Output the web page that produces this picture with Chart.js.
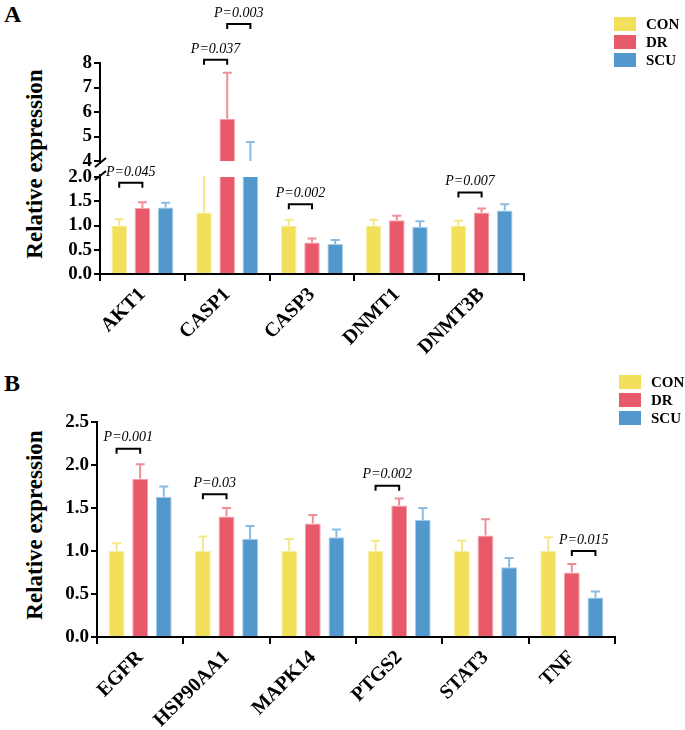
<!DOCTYPE html>
<html>
<head>
<meta charset="utf-8">
<script src="https://cdn.jsdelivr.net/npm/chart.js@4.4.1/dist/chart.umd.min.js"></script>
<style>
body{margin:0;background:#fff;width:685px;height:730px;position:relative;overflow:hidden;font-family:"Liberation Serif","Times New Roman",serif;color:#000;}
canvas{position:absolute;left:0;}
.panel{position:absolute;font-weight:bold;font-size:24px;line-height:28px;}
.ytitle{position:absolute;font-weight:bold;font-size:23px;white-space:nowrap;transform:translate(-50%,-50%) rotate(-90deg);}
.legend{position:absolute;font-weight:bold;font-size:15px;}
.legend div{height:18px;display:flex;align-items:center;}
.legend span{display:inline-block;width:22px;height:14px;margin-right:10px;}
</style>
</head>
<body>
<div class="panel" style="left:4px;top:0px">A</div>
<div class="panel" style="left:4px;top:369px">B</div>
<div class="ytitle" style="left:35px;top:164px">Relative expression</div>
<div class="ytitle" style="left:35px;top:525px">Relative expression</div>
<canvas id="aTop" width="685" height="370" style="top:0"></canvas>
<canvas id="aBot" width="685" height="370" style="top:0"></canvas>
<canvas id="bChart" width="685" height="360" style="top:370px"></canvas>
<div class="legend" id="legA" style="left:614px;top:15px"></div>
<div class="legend" id="legB" style="left:619px;top:373px"></div>
<script>
const fontFam = '"Liberation Serif", "Times New Roman", serif';

// grupos y colores
const groups = ['CON', 'DR', 'SCU'];
const barColors = ['#F2E05A', '#E8596A', '#5398CC'];
const edgeColors = ['#F8EEA6', '#F4A3AB', '#A5CAE8'];
const errColors = ['#F5E887', '#F08E98', '#8ABBE2'];

// Panel A
const genesA = ['AKT1', 'CASP1', 'CASP3', 'DNMT1', 'DNMT3B'];
const conA = [1.00, 1.27, 1.00, 1.00, 1.00];
const conA_sd = [0.13, 1.60, 0.12, 0.12, 0.10];
const drA = [1.36, 5.72, 0.65, 1.11, 1.27];
const drA_sd = [0.12, 1.88, 0.08, 0.09, 0.08];
const scuA = [1.37, 3.60, 0.62, 0.97, 1.31];
const scuA_sd = [0.10, 1.18, 0.08, 0.12, 0.13];
const ticksA_low = [0, 0.5, 1.0, 1.5, 2.0];
const ticksA_high = [4, 5, 6, 7, 8];
// [categoria, grupo1, grupo2, nivel, texto]
const bracketsA_low = [
    [0, 0, 1, 1.88, 'P=0.045'],
    [2, 0, 1, 1.44, 'P=0.002'],
    [4, 0, 1, 1.68, 'P=0.007']
];
const bracketsA_high = [
    [1, 0, 1, 8.13, 'P=0.037'],
    [1, 1, 2, 9.59, 'P=0.003']
];

// Panel B
const genesB = ['EGFR', 'HSP90AA1', 'MAPK14', 'PTGS2', 'STAT3', 'TNF'];
const conB = [1.00, 1.00, 1.00, 1.00, 1.00, 1.00];
const conB_sd = [0.09, 0.17, 0.14, 0.12, 0.12, 0.16];
const drB = [1.84, 1.40, 1.32, 1.53, 1.18, 0.75];
const drB_sd = [0.17, 0.10, 0.10, 0.08, 0.19, 0.10];
const scuB = [1.63, 1.14, 1.16, 1.36, 0.81, 0.46];
const scuB_sd = [0.12, 0.15, 0.09, 0.14, 0.11, 0.07];
const ticksB = [0, 0.5, 1.0, 1.5, 2.0, 2.5];
const bracketsB = [
    [0, 0, 1, 2.19, 'P=0.001'],
    [1, 0, 1, 1.66, 'P=0.03'],
    [3, 0, 1, 1.76, 'P=0.002'],
    [5, 1, 2, 1.00, 'P=0.015']
];

// leyendas
['legA', 'legB'].forEach(id => {
    document.getElementById(id).innerHTML = groups.map((g, i) =>
        `<div><span style="background:${barColors[i]}"></span>${g}</div>`).join('');
});

// barras de error, corchetes y marcas de corte
const statMarks = {
    id: 'statMarks',
    afterDatasetsDraw(chart) {
        const ctx = chart.ctx, a = chart.chartArea, y = chart.scales.y;
        ctx.save();
        ctx.beginPath();
        ctx.rect(a.left, a.top - 1, a.right - a.left, a.bottom - a.top + 1);
        ctx.clip();
        chart.data.datasets.forEach((ds, i) => {
            chart.getDatasetMeta(i).data.forEach((bar, j) => {
                const y0 = y.getPixelForValue(ds.data[j]);
                const y1 = y.getPixelForValue(ds.data[j] + ds.sd[j]);
                ctx.strokeStyle = ds.errColor;
                ctx.lineWidth = 2;
                ctx.beginPath();
                ctx.moveTo(bar.x, y0);
                ctx.lineTo(bar.x, y1);
                ctx.moveTo(bar.x - 4.5, y1);
                ctx.lineTo(bar.x + 4.5, y1);
                ctx.stroke();
            });
        });
        ctx.restore();
    },
    afterDraw(chart, args, opts) {
        const ctx = chart.ctx, a = chart.chartArea, y = chart.scales.y;
        ctx.save();
        ctx.strokeStyle = '#000';
        ctx.fillStyle = '#000';
        ctx.lineWidth = 2;
        (opts.brackets || []).forEach(b => {
            const p1 = chart.getDatasetMeta(b[1]).data[b[0]];
            const p2 = chart.getDatasetMeta(b[2]).data[b[0]];
            const yy = y.getPixelForValue(b[3]);
            ctx.beginPath();
            ctx.moveTo(p1.x, yy + 5);
            ctx.lineTo(p1.x, yy);
            ctx.lineTo(p2.x, yy);
            ctx.lineTo(p2.x, yy + 5);
            ctx.stroke();
            ctx.font = 'italic 14px ' + fontFam;
            ctx.textAlign = 'center';
            ctx.textBaseline = 'bottom';
            ctx.fillText(b[4], (p1.x + p2.x) / 2, yy - 4);
        });
        if (opts.cut === 'bottom') {
            ctx.beginPath();
            ctx.moveTo(a.left, a.bottom);
            ctx.lineTo(a.left, a.bottom + 3);
            ctx.moveTo(a.left - 5, a.bottom + 6);
            ctx.lineTo(a.left + 6, a.bottom - 3);
            ctx.stroke();
        }
        if (opts.cut === 'top') {
            ctx.beginPath();
            ctx.moveTo(a.left, a.top);
            ctx.lineTo(a.left, a.top - 3);
            ctx.moveTo(a.left - 5, a.top + 3);
            ctx.lineTo(a.left + 6, a.top - 6);
            ctx.stroke();
        }
        ctx.restore();
    }
};

function hacerGrafico(id, labels, valores, sds, yTicks, pad, yWidth, showX, brackets, cut) {
    const yMin = yTicks[0], yMax = yTicks[yTicks.length - 1];
    new Chart(document.getElementById(id), {
        type: 'bar',
        data: {
            labels: labels,
            datasets: groups.map((g, i) => ({
                label: g,
                data: valores[i],
                sd: sds[i],
                errColor: errColors[i],
                backgroundColor: barColors[i],
                borderColor: edgeColors[i],
                borderWidth: 1,
                categoryPercentage: 0.82,
                barPercentage: 0.67,
                clip: 0
            }))
        },
        options: {
            responsive: false,
            animation: false,
            events: [],
            layout: { padding: pad },
            plugins: {
                legend: { display: false },
                tooltip: { enabled: false },
                statMarks: { brackets: brackets, cut: cut }
            },
            scales: {
                x: {
                    display: showX,
                    grid: { drawOnChartArea: false, drawTicks: true, tickLength: 7, color: '#000', lineWidth: 2 },
                    border: { display: true, color: '#000', width: 2 },
                    ticks: {
                        color: '#000', autoSkip: false, minRotation: 45, maxRotation: 45, padding: 2,
                        font: { family: fontFam, size: 20, weight: 'bold' }
                    },
                    afterFit: s => { if (showX) s.height = 90; }
                },
                y: {
                    min: yMin,
                    max: yMax,
                    grid: { drawOnChartArea: false, drawTicks: true, tickLength: 6, color: '#000', lineWidth: 2 },
                    border: { display: true, color: '#000', width: 2 },
                    afterBuildTicks: s => { s.ticks = yTicks.map(v => ({ value: v })); },
                    ticks: {
                        color: '#000', padding: 2, autoSkip: false,
                        font: { family: fontFam, size: 19, weight: 'bold' },
                        callback: v => (yMax > 3 ? String(v) : v.toFixed(1))
                    },
                    afterFit: s => { s.width = yWidth; }
                }
            }
        },
        plugins: [statMarks]
    });
}

hacerGrafico('aTop', genesA, [conA, drA, scuA], [conA_sd, drA_sd, scuA_sd], ticksA_high,
    { top: 63, bottom: 209, left: 0, right: 161 }, 100, false, bracketsA_high, 'bottom');
hacerGrafico('aBot', genesA, [conA, drA, scuA], [conA_sd, drA_sd, scuA_sd], ticksA_low,
    { top: 177, bottom: 6, left: 0, right: 161 }, 100, true, bracketsA_low, 'top');
hacerGrafico('bChart', genesB, [conB, drB, scuB], [conB_sd, drB_sd, scuB_sd], ticksB,
    { top: 52, bottom: 3, left: 0, right: 70 }, 97, true, bracketsB, null);
</script>
</body>
</html>
